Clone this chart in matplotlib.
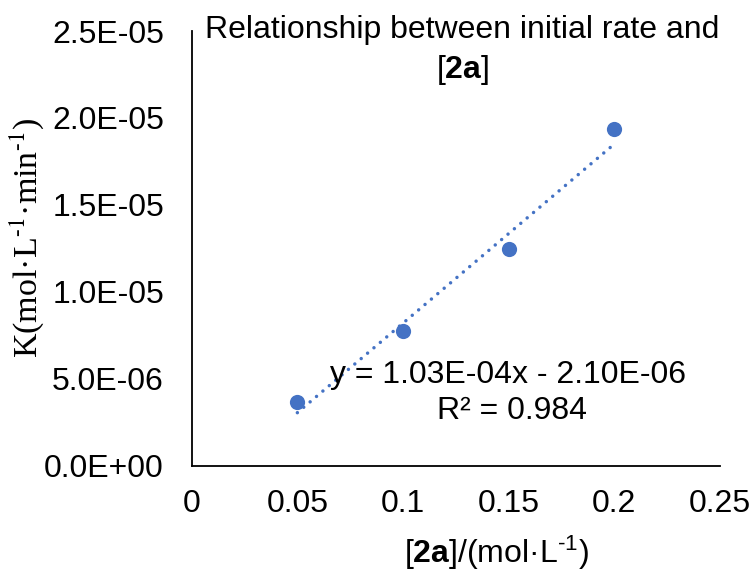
import matplotlib
matplotlib.use("Agg")
import matplotlib.pyplot as plt
import numpy as np

plt.rcParams["font.family"] = ["Liberation Sans", "DejaVu Sans"]
plt.rcParams["mathtext.fontset"] = "custom"
plt.rcParams["mathtext.rm"] = "Liberation Sans"
plt.rcParams["mathtext.bf"] = "Liberation Sans:bold"
plt.rcParams["mathtext.it"] = "Liberation Sans:italic"

# Data
conc_2a = [0.05, 0.10, 0.15, 0.20]
rate_k = [3.68e-6, 7.75e-6, 1.245e-5, 1.936e-5]
slope = 1.03e-4
intercept = -2.10e-6
r_squared = 0.984
x_ticks = [0, 0.05, 0.1, 0.15, 0.2, 0.25]
x_tick_labels = ["0", "0.05", "0.1", "0.15", "0.2", "0.25"]
y_ticks = [0, 5e-6, 1e-5, 1.5e-5, 2e-5, 2.5e-5]
y_tick_labels = ["0.0E+00", "5.0E-06", "1.0E-05", "1.5E-05", "2.0E-05", "2.5E-05"]

blue = "#4472C4"
fs = 23

fig = plt.figure(figsize=(7.55, 5.72), dpi=100)
ax = fig.add_axes([0.2539, 0.1858, 0.6997, 0.76])

# Linear trendline over the data range
xt = np.array([min(conc_2a), max(conc_2a)])
ax.plot(xt, slope * xt + intercept, color=blue, lw=2.5,
        linestyle=(0, (0.01, 2.4)), dash_capstyle="round", zorder=2)
ax.scatter(conc_2a, rate_k, s=120, color=blue, zorder=3, linewidths=0)

ax.set_xlim(0, 0.25)
ax.set_ylim(0, 2.5e-5)
ax.set_xticks(x_ticks)
ax.set_xticklabels(x_tick_labels, fontsize=fs)
ax.set_yticks(y_ticks)
ax.set_yticklabels(y_tick_labels, fontsize=fs)
ax.tick_params(axis="x", length=0, pad=17)
ax.tick_params(axis="y", length=0, pad=20)

for side in ("top", "right"):
    ax.spines[side].set_visible(False)
for side in ("left", "bottom"):
    ax.spines[side].set_color("black")
    ax.spines[side].set_linewidth(1.3)

# Axis titles
fig.text(0.658, 0.033, r"[$\mathbf{2a}$]/(mol·L$^{\text{-1}}$)", fontsize=fs,
         ha="center", va="center")
fig.text(0.036, 0.585, r"K(mol·L$^{\text{-1}}$·min$^{\text{-1}}$)", fontsize=24.5,
         family="Liberation Serif", math_fontfamily="stix",
         rotation=90, ha="center", va="center")

# Chart title inside the top of the plot area
fig.text(0.612, 0.947, "Relationship between initial rate and", fontsize=fs,
         ha="center", va="center")
fig.text(0.612, 0.878, r"[$\mathbf{2a}$]", fontsize=fs, ha="center", va="center")

# Trendline equation
ax.text(0.1497, 5.22e-6, f"y = {slope:.2E}x - {abs(intercept):.2E}",
        fontsize=fs, ha="center", va="center")
ax.text(0.1515, 3.15e-6, f"R² = {r_squared}", fontsize=fs, ha="center", va="center")

fig.savefig("out.png", dpi=100)
